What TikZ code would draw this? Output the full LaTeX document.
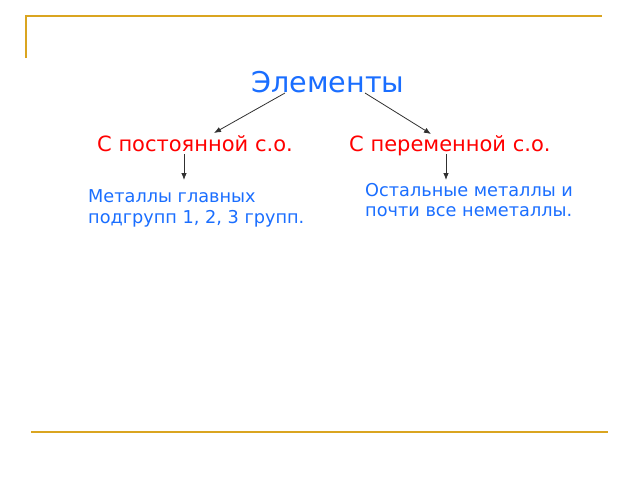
\documentclass[tikz,border=0pt]{standalone}
\usepackage{fontspec}
\setmainfont{DejaVu Sans}
\usetikzlibrary{arrows.meta}
\definecolor{gold}{HTML}{DAA520}
\definecolor{tblue}{HTML}{1A6EFF}
\definecolor{tred}{HTML}{FF0000}
\definecolor{arr}{HTML}{303030}
\begin{document}
\begin{tikzpicture}[x=1pt,y=-1pt,
  frameline/.style={draw=gold,line width=2pt},
  title/.style={font=\fontsize{28.6}{34}\selectfont,text=tblue,inner sep=0pt},
  cat/.style={font=\fontsize{21}{25}\selectfont,text=tred,inner sep=0pt},
  desc/.style={font=\fontsize{17.7}{20.5}\selectfont,text=tblue,inner sep=0pt,align=left},
  link/.style={draw=arr,line width=0.8pt,-{Latex[length=7pt,width=5.5pt]}}]
\useasboundingbox (0,0) rectangle (640,480);
\fill[white] (0,0) rectangle (640,480);
% frame
\coordinate (f1) at (26,58);
\coordinate (f2) at (26,16);
\coordinate (f3) at (602,16);
\coordinate (f4) at (31,432);
\coordinate (f5) at (608,432);
\draw[frameline] (f1) -- (f2) -- (f3);
\draw[frameline] (f4) -- (f5);
% texts
\node[title,anchor=base] (el) at (328,92) {Элементы};
\node[cat,anchor=base west] (c1) at (97,151) {С постоянной с.о.};
\node[cat,anchor=base west] (c2) at (349,151) {С переменной с.о.};
\node[desc,anchor=base west] (m1) at (88,223) {Металлы главных\\подгрупп 1, 2, 3 групп.};
\node[desc,anchor=base west] (m2) at (365,216.5) {Остальные металлы и\\почти все неметаллы.};
% arrows
\coordinate (a1s) at (285,93);
\coordinate (a1e) at (214,133);
\coordinate (a2s) at (365,93);
\coordinate (a2e) at (431,134);
\coordinate (a3s) at (184,154);
\coordinate (a3e) at (184,180);
\coordinate (a4s) at (446,154);
\coordinate (a4e) at (446,180);
\draw[link] (a1s) -- (a1e);
\draw[link] (a2s) -- (a2e);
\draw[link] (a3s) -- (a3e);
\draw[link] (a4s) -- (a4e);
\end{tikzpicture}
\end{document}
